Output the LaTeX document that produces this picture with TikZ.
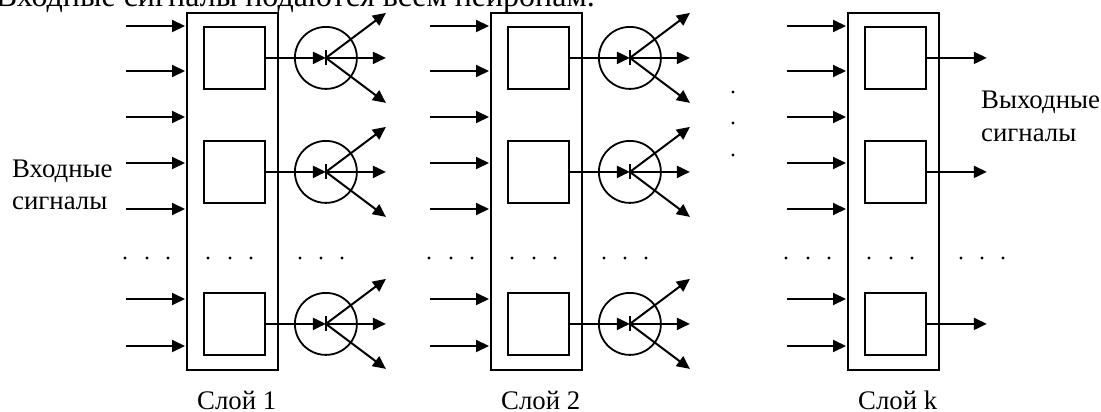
\documentclass[tikz,border=0pt]{standalone}
\usepackage{fontspec}
\setmainfont{Liberation Serif}
\usetikzlibrary{arrows.meta}
\begin{document}
\begin{tikzpicture}[x=1pt,y=-1pt,
  ln/.style={line width=2pt},
  arr/.style={ln,-{Triangle[length=13pt,width=12pt]}},
  layerbox/.style={draw,line width=2pt,minimum width=91pt,minimum height=357pt,inner sep=0pt,anchor=north west},
  cell/.style={draw,line width=1.8pt,minimum width=61pt,minimum height=62pt,inner sep=0pt,anchor=north west},
  neuron/.style={draw,circle,line width=1.8pt,minimum size=62pt,inner sep=0pt},
  lbl/.style={font=\fontsize{26.8}{32}\selectfont,inner sep=0pt,anchor=base west},
  dot/.style={fill,circle,inner sep=0pt,minimum size=3.2pt},
]
\useasboundingbox (0,0) rectangle (1101,412);

\node[font=\fontsize{32}{38}\selectfont,inner sep=0pt,anchor=base east] (title) at (595,6.5) {Входные сигналы подаются всем нейронам.};

\foreach \L/\ox in {1/0,2/304,k/661}{
  \node[layerbox] (L\L) at (186+\ox,12) {};
  \node[cell] (L\L a) at (203+\ox,26) {};
  \node[cell] (L\L b) at (203+\ox,140) {};
  \node[cell] (L\L c) at (203+\ox,292) {};
  \foreach \y [count=\i] in {26,71,117,163,209,299,346}{
    \coordinate (in\L\i) at (126+\ox,\y);
    \draw[arr,shorten >=1pt] (in\L\i) -- (in\L\i -| L\L.west);
  }
  \foreach \dx [count=\j] in {125,147,168,208,230,251,300,321,342}{
    \node[dot] (d\L\j) at (\dx+\ox,258) {};
  }
  \node[lbl] (cap\L) at (197+\ox,409.5) {Слой \L};
}

\foreach \L in {1,2}{
  \foreach \r in {a,b,c}{
    \node[neuron] (N\L\r) at ([xshift=91.5pt]L\L\r.center) {};
    \draw[arr] (L\L\r.east) -- (N\L\r.center);
    \draw[ln] ([yshift=-7.5pt]N\L\r.center) -- ([yshift=7.5pt]N\L\r.center);
    \coordinate (N\L\r u) at ([shift={(60pt,45pt)}]N\L\r.center);
    \coordinate (N\L\r m) at ([shift={(60pt,0pt)}]N\L\r.center);
    \coordinate (N\L\r d) at ([shift={(60pt,-45pt)}]N\L\r.center);
    \draw[arr] (N\L\r.center) -- (N\L\r u);
    \draw[arr] (N\L\r.center) -- (N\L\r m);
    \draw[arr] (N\L\r.center) -- (N\L\r d);
  }
}

\foreach \r in {a,b,c}{
  \coordinate (outk\r) at ([xshift=60pt]Lk\r.east);
  \draw[arr] (Lk\r.east) -- (outk\r);
}

\foreach \y [count=\i] in {92,123,155}{
  \node[dot] (v\i) at (733,\y) {};
}

\node[lbl] (inA) at (12,177) {Входные};
\node[lbl] (inB) at (12,209) {сигналы};
\node[lbl] (outA) at (981,109) {Выходные};
\node[lbl] (outB) at (981,141) {сигналы};
\end{tikzpicture}
\end{document}
